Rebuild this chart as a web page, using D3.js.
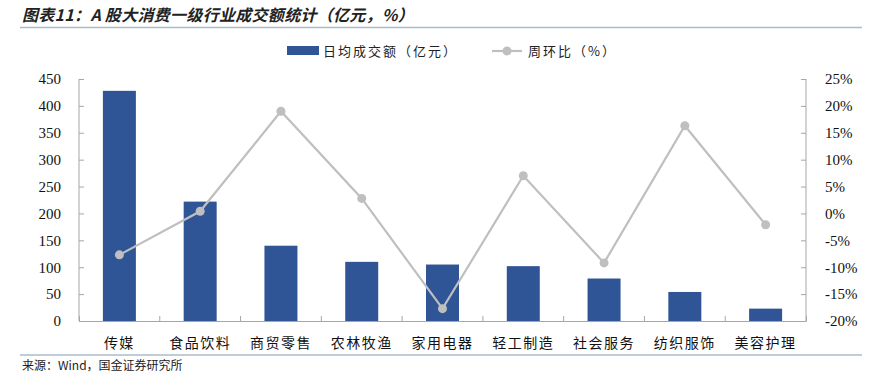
<!DOCTYPE html>
<html>
<head>
<meta charset="utf-8">
<script src="https://cdn.jsdelivr.net/npm/d3@7"></script>
<style>
  body { margin: 0; background: #fff; }
  svg { display: block; }
</style>
</head>
<body>
<div id="chart"></div>
<script>
// data
var categories = ["传媒", "食品饮料", "商贸零售", "农林牧渔", "家用电器", "轻工制造", "社会服务", "纺织服饰", "美容护理"];
var turnover = [428, 222, 140, 110, 105, 102, 79, 54, 23];       // 日均成交额（亿元）
var wowChange = [-7.7, 0.4, 19.0, 2.8, -17.7, 7.0, -9.2, 16.3, -2.1]; // 周环比（%）
var leftTicks = [0, 50, 100, 150, 200, 250, 300, 350, 400, 450];
var rightTicks = [-20, -15, -10, -5, 0, 5, 10, 15, 20, 25];

var W = 880, H = 387;
var margin = { top: 79, right: 74, bottom: 66, left: 79 },
    width = W - margin.left - margin.right,
    height = H - margin.top - margin.bottom;

var barColor = "#2F5597",
    lineColor = "#BFBFBF",
    axisColor = "#A6A6A6",
    ruleColor = "#A9BCCD";

var svg = d3.select("#chart").append("svg")
    .attr("width", W)
    .attr("height", H);

// title + rules
svg.append("text")
    .attr("x", 22).attr("y", 21)
    .style("font-family", "'Noto Sans CJK SC', sans-serif")
    .style("font-weight", "bold")
    .style("font-style", "italic")
    .style("font-size", "16px")
    .style("letter-spacing", "0.3px")
    .attr("fill", "#222")
    .text("图表11：A 股大消费一级行业成交额统计（亿元，%）");

svg.append("line")
    .attr("x1", 20).attr("x2", 862).attr("y1", 27.5).attr("y2", 27.5)
    .attr("stroke", ruleColor).attr("stroke-width", 1.5);

svg.append("line")
    .attr("x1", 20).attr("x2", 862).attr("y1", 355).attr("y2", 355)
    .attr("stroke", ruleColor).attr("stroke-width", 1.5);

svg.append("text")
    .attr("x", 22).attr("y", 370)
    .style("font-family", "'Noto Sans CJK SC', sans-serif")
    .style("font-size", "12px")
    .attr("fill", "#222")
    .text("来源：Wind，国金证券研究所");

var g = svg.append("g")
    .attr("transform", "translate(" + margin.left + "," + margin.top + ")");

var xb = d3.scaleBand().domain(categories).range([0, width]);
var y = d3.scaleLinear().domain([0, 450]).range([height, 0]);
var y2 = d3.scaleLinear().domain([-20, 25]).range([height, 0]);

// bars
g.selectAll(".bar")
    .data(turnover)
    .enter().append("rect")
    .attr("class", "bar")
    .attr("x", function(d, i) { return xb(categories[i]) + xb.bandwidth() / 2 - 16.5; })
    .attr("width", 33)
    .attr("y", function(d) { return y(d); })
    .attr("height", function(d) { return height - y(d); })
    .attr("fill", barColor);

// axes
var yAxis = d3.axisLeft(y).tickValues(leftTicks).tickSize(-5).tickPadding(18);
var gy = g.append("g").call(yAxis);

var yAxis2 = d3.axisRight(y2).tickValues(rightTicks).tickSize(-5).tickPadding(19)
    .tickFormat(function(d) { return d + "%"; });
var gy2 = g.append("g").attr("transform", "translate(" + width + ",0)").call(yAxis2);

var xAxis = d3.axisBottom(xb).tickSize(-5).tickFormat("");
var gx = g.append("g").attr("transform", "translate(0," + height + ")").call(xAxis);
// category boundaries instead of centered ticks
gx.selectAll(".tick").remove();
gx.selectAll(".bnd")
    .data(categories.slice(1))
    .enter().append("line")
    .attr("x1", function(d) { return xb(d); })
    .attr("x2", function(d) { return xb(d); })
    .attr("y1", 0).attr("y2", -5)
    .attr("stroke", axisColor);

[gy, gy2, gx].forEach(function(a) {
    a.select(".domain").attr("stroke", axisColor);
    a.selectAll(".tick line").attr("stroke", axisColor);
    a.selectAll("text")
        .style("font-family", "'Liberation Serif', 'Times New Roman', serif")
        .style("font-size", "15px")
        .attr("fill", "#111");
});
gy.select(".domain").attr("d", "M0,0V" + height);
gy2.select(".domain").attr("d", "M0,0V" + height);

g.selectAll(".cat")
    .data(categories)
    .enter().append("text")
    .attr("class", "cat")
    .attr("x", function(d) { return xb(d) + xb.bandwidth() / 2; })
    .attr("y", height + 27)
    .attr("text-anchor", "middle")
    .style("font-family", "'Noto Sans CJK SC', sans-serif")
    .style("font-size", "14px")
    .style("letter-spacing", "1.5px")
    .attr("fill", "#111")
    .text(function(d) { return d; });

// line
var line = d3.line()
    .x(function(d, i) { return xb(categories[i]) + xb.bandwidth() / 2; })
    .y(function(d) { return y2(d); });

g.append("path")
    .datum(wowChange)
    .attr("d", line)
    .attr("fill", "none")
    .attr("stroke", lineColor)
    .attr("stroke-width", 2.2);

g.selectAll(".dot")
    .data(wowChange)
    .enter().append("circle")
    .attr("class", "dot")
    .attr("cx", function(d, i) { return xb(categories[i]) + xb.bandwidth() / 2; })
    .attr("cy", function(d) { return y2(d); })
    .attr("r", 4.5)
    .attr("fill", lineColor);

// legend
var legend = svg.append("g").attr("transform", "translate(0,51)");
legend.append("rect")
    .attr("x", 287).attr("y", -5).attr("width", 32).attr("height", 9)
    .attr("fill", barColor);
legend.append("text")
    .attr("x", 323).attr("y", 5)
    .style("font-family", "'Noto Sans CJK SC', sans-serif")
    .style("font-size", "13px")
    .style("letter-spacing", "2px")
    .attr("fill", "#222")
    .text("日均成交额（亿元）");
legend.append("line")
    .attr("x1", 492).attr("x2", 522).attr("y1", 0).attr("y2", 0)
    .attr("stroke", lineColor).attr("stroke-width", 2.2);
legend.append("circle")
    .attr("cx", 507).attr("cy", 0).attr("r", 4.5)
    .attr("fill", lineColor);
legend.append("text")
    .attr("x", 528).attr("y", 5)
    .style("font-family", "'Noto Sans CJK SC', sans-serif")
    .style("font-size", "13px")
    .style("letter-spacing", "2px")
    .attr("fill", "#222")
    .text("周环比（%）");
</script>
</body>
</html>
